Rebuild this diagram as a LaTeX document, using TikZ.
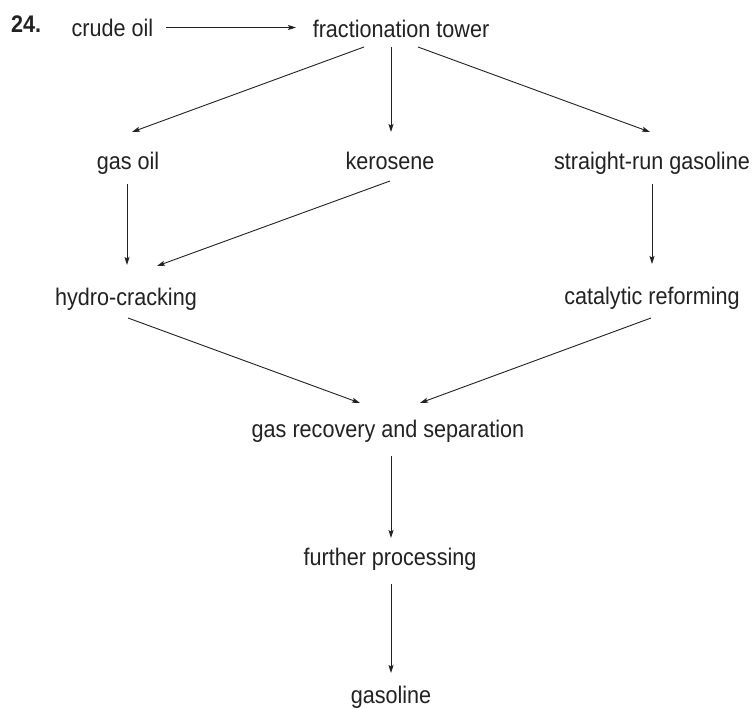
\documentclass[tikz,border=0pt]{standalone}
\usepackage{fontspec}
\setmainfont[FakeStretch=0.9]{Liberation Sans}
\usetikzlibrary{arrows.meta,calc}
\definecolor{ink}{HTML}{222222}
\begin{document}
\begin{tikzpicture}[x=1pt,y=-1pt,
  lbl/.style={anchor=base,inner sep=0pt,text=ink,font=\fontsize{24}{28}\selectfont},
  flow/.style={draw=ink,line width=0.9pt,-{Stealth[length=8pt,width=5pt,inset=1.5pt]}}]
\useasboundingbox[fill=white] (0,0) rectangle (754,707);
\node[lbl,anchor=base west,font=\fontsize{24}{28}\selectfont\bfseries] (num) at (11,32) {24.};
\node[lbl] (co) at (112.5,36.5) {crude oil};
\node[lbl] (ft) at (401,37) {fractionation tower};
\node[lbl] (go) at (128,169) {gas oil};
\node[lbl] (ke) at (390,169) {kerosene};
\node[lbl] (sr) at (652,169) {straight-run gasoline};
\node[lbl] (hc) at (126,305) {hydro-cracking};
\node[lbl] (cr) at (652,304) {catalytic reforming};
\node[lbl] (gr) at (388,437) {gas recovery and separation};
\node[lbl] (fp) at (390,565) {further processing};
\node[lbl] (ga) at (391,703) {gasoline};
\draw[flow] ($(co.base)+(53.5,-9)$) -- ($(ft.base)+(-105,-9.5)$);
\draw[flow] ($(ft.base)+(-37,10)$) -- ($(go.base)+(4,-37)$);
\draw[flow] ($(ft.base)+(-10,10)$) -- ($(ke.base)+(1,-37)$);
\draw[flow] ($(ft.base)+(17,10)$) -- ($(sr.base)+(-2,-37)$);
\draw[flow] ($(go.base)+(-1,15)$) -- ($(hc.base)+(1,-40)$);
\draw[flow] ($(ke.base)+(0,12)$) -- ($(hc.base)+(31,-39)$);
\draw[flow] ($(sr.base)+(0,15)$) -- ($(cr.base)+(0,-40)$);
\draw[flow] ($(hc.base)+(2,13)$) -- ($(gr.base)+(-28,-34)$);
\draw[flow] ($(cr.base)+(-1,14)$) -- ($(gr.base)+(32,-34)$);
\draw[flow] ($(gr.base)+(3,19)$) -- ($(fp.base)+(1,-27)$);
\draw[flow] ($(fp.base)+(1,19)$) -- ($(ga.base)+(0,-30)$);
\end{tikzpicture}
\end{document}
